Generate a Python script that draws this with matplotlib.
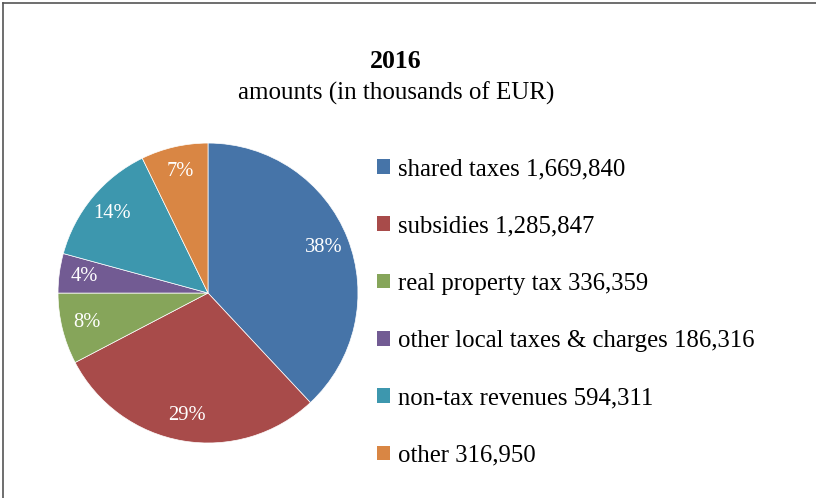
import matplotlib
matplotlib.use("Agg")
import matplotlib.pyplot as plt
from matplotlib.patches import Patch
from matplotlib.lines import Line2D

plt.rcParams['font.family'] = ['Liberation Serif', 'DejaVu Serif']

categories = ["shared taxes", "subsidies", "real property tax",
              "other local taxes & charges", "non-tax revenues", "other"]
values = [1669840, 1285847, 336359, 186316, 594311, 316950]
colors = ["#4674A8", "#A84B4A", "#86A55A", "#725B93", "#3D97AE", "#D98644"]
title = "2016"
subtitle = "amounts (in thousands of EUR)"

fig = plt.figure(figsize=(8.16, 4.98), dpi=100)

# frame (left and top visible, right/bottom cut)
fig.add_artist(Line2D([3/816, 3/816], [0, 1 - 3/498], color="#555555", lw=1.2, transform=fig.transFigure))
fig.add_artist(Line2D([3/816, 1], [1 - 3/498, 1 - 3/498], color="#555555", lw=1.2, transform=fig.transFigure))

ax = fig.add_axes([0.0711, 0.1104, 0.3676, 0.6024])
wedges, texts, autotexts = ax.pie(
    values, colors=colors, startangle=90, counterclock=False,
    autopct=lambda p: f"{p:.0f}%", pctdistance=0.83,
    wedgeprops=dict(edgecolor="white", linewidth=0.5),
    textprops=dict(color="white", fontsize=14.8))
ax.set_xlim(-1, 1)
ax.set_ylim(-1, 1)
ax.set_aspect("equal")
ax.axis("off")

fig.text(396/816, 1 - 62/498, title, ha="center", va="center", fontsize=18.5, fontweight="bold")
fig.text(396/816, 1 - 93/498, subtitle, ha="center", va="center", fontsize=18)

handles = [Patch(facecolor=c, edgecolor="none") for c in colors]
labels = [f"{c} {v:,}" for c, v in zip(categories, values)]
fig.legend(handles, labels, loc="upper left", bbox_to_anchor=(377/816, 1 - 158/498),
           frameon=False, fontsize=17.8, handlelength=0.53, handleheight=0.53,
           handletextpad=0.33, labelspacing=1.43, borderaxespad=0, borderpad=0)

fig.savefig("out.png", dpi=100)
